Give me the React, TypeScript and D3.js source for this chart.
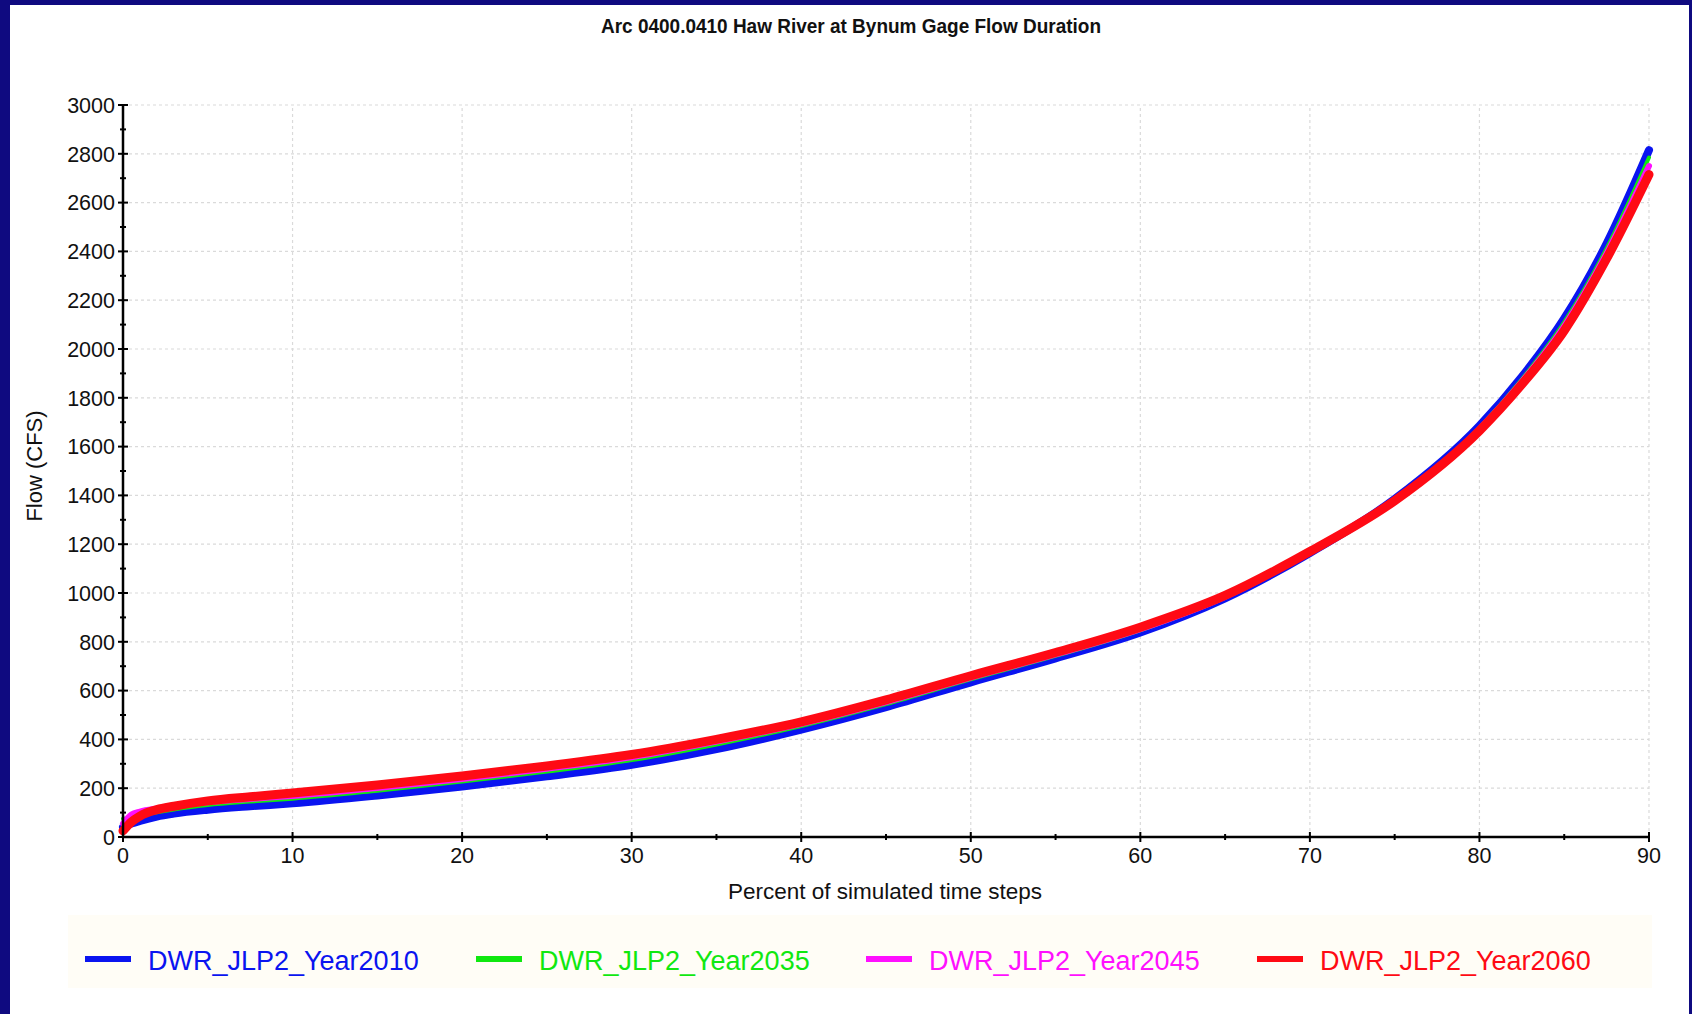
import React from "react";
import * as d3 from "d3";

const titleText = "Arc 0400.0410 Haw River at Bynum Gage Flow Duration";
const xTitle = "Percent of simulated time steps";
const yTitle = "Flow (CFS)";

const pct = [0, 0.5, 1, 2, 3, 5, 7.5, 10, 15, 20, 25, 30, 35, 40, 45, 50, 55, 60, 65, 70, 75, 80, 82.5, 85, 87.5, 90];
const year2010 = [40, 55, 66, 84, 96, 112, 126, 138, 170, 207, 249, 296, 360, 440, 532, 634, 732, 838, 978, 1164, 1385, 1685, 1886, 2125, 2432, 2815];
const year2035 = [75, 78, 86, 101, 113, 131, 145, 157, 190, 227, 268, 315, 379, 455, 545, 646, 742, 847, 982, 1166, 1383, 1678, 1876, 2110, 2412, 2785];
const year2045 = [55, 92, 104, 117, 126, 142, 156, 168, 201, 238, 280, 327, 391, 464, 553, 653, 748, 852, 985, 1168, 1381, 1672, 1866, 2094, 2392, 2750];
const year2060 = [25, 62, 86, 112, 126, 148, 165, 180, 213, 250, 291, 338, 400, 472, 562, 661, 756, 860, 990, 1170, 1378, 1665, 1855, 2075, 2370, 2715];

const seriesNames = ["DWR_JLP2_Year2010", "DWR_JLP2_Year2035", "DWR_JLP2_Year2045", "DWR_JLP2_Year2060"];
const seriesValues = [year2010, year2035, year2045, year2060];
const seriesColors = ["#0a14f0", "#10e810", "#ff10ff", "#ff0a14"];
const seriesWidths = [8, 4, 6, 9];

const xTicks = [0, 10, 20, 30, 40, 50, 60, 70, 80, 90];
const xMinor = [5, 15, 25, 35, 45, 55, 65, 75, 85];
const yTicks = [0, 200, 400, 600, 800, 1000, 1200, 1400, 1600, 1800, 2000, 2200, 2400, 2600, 2800, 3000];
const yMinor = [100, 300, 500, 700, 900, 1100, 1300, 1500, 1700, 1900, 2100, 2300, 2500, 2700, 2900];

const W = 1692;
const H = 1014;
const font = "'Liberation Sans', Arial, sans-serif";

export default function App() {
  const x = d3.scaleLinear().domain([0, 90]).range([123, 1649]);
  const y = d3.scaleLinear().domain([0, 3000]).range([837, 105]);
  const line = d3
    .line<[number, number]>()
    .x((d) => x(d[0]))
    .y((d) => y(d[1]))
    .curve(d3.curveMonotoneX);

  const legendX = [85, 476, 866, 1257];

  return (
    <svg
      width={W}
      height={H}
      style={{ position: "absolute", left: 0, top: 0, display: "block" }}
      fontFamily={font}
    >
      <rect x={0} y={0} width={W} height={H} fill="#0f0a80" />
      <rect x={10} y={5} width={1679} height={H - 5} fill="#ffffff" />
      <rect x={68} y={915} width={1584} height={73} fill="#fffdf6" />

      <text
        x={851}
        y={33}
        textAnchor="middle"
        fontFamily="'Liberation Sans Narrow', 'Arial Narrow', 'Liberation Sans', sans-serif"
        fontWeight="bold"
        fontSize={20}
        textLength={500}
        lengthAdjust="spacingAndGlyphs"
        fill="#111"
      >
        {titleText}
      </text>

      {/* grid */}
      <g stroke="#dadada" strokeWidth={1.2} strokeDasharray="3,3">
        {yTicks.filter((t) => t > 0).map((t) => (
          <line key={"gy" + t} x1={x(0)} x2={x(90)} y1={y(t)} y2={y(t)} />
        ))}
        {xTicks.filter((t) => t > 0).map((t) => (
          <line key={"gx" + t} x1={x(t)} x2={x(t)} y1={y(0)} y2={y(3000)} />
        ))}
      </g>

      {/* series */}
      {seriesValues.map((vals, i) => (
        <path
          key={seriesNames[i]}
          d={line(pct.map((p, j) => [p, vals[j]] as [number, number])) || ""}
          fill="none"
          stroke={seriesColors[i]}
          strokeWidth={seriesWidths[i]}
          strokeLinejoin="round"
          strokeLinecap="round"
        />
      ))}

      {/* axes */}
      <g stroke="#000">
        <line x1={x(0)} x2={x(0)} y1={y(0)} y2={y(3000)} strokeWidth={2.5} />
        <line x1={x(0)} x2={x(90)} y1={y(0)} y2={y(0)} strokeWidth={2.5} />
        {yTicks.map((t) => (
          <line key={"yt" + t} x1={x(0) - 5} x2={x(0) + 5} y1={y(t)} y2={y(t)} strokeWidth={2} />
        ))}
        {yMinor.map((t) => (
          <line key={"ym" + t} x1={x(0) - 3} x2={x(0) + 3} y1={y(t)} y2={y(t)} strokeWidth={2} />
        ))}
        {xTicks.map((t) => (
          <line key={"xt" + t} x1={x(t)} x2={x(t)} y1={y(0) - 5} y2={y(0) + 5} strokeWidth={2} />
        ))}
        {xMinor.map((t) => (
          <line key={"xm" + t} x1={x(t)} x2={x(t)} y1={y(0) - 3} y2={y(0) + 3} strokeWidth={2} />
        ))}
      </g>

      <g fontSize={21.5} fill="#111">
        {yTicks.map((t) => (
          <text key={"yl" + t} x={x(0) - 8} y={y(t)} dy="0.36em" textAnchor="end">
            {t}
          </text>
        ))}
        {xTicks.map((t) => (
          <text key={"xl" + t} x={x(t)} y={863} textAnchor="middle">
            {t}
          </text>
        ))}
      </g>

      <text x={885} y={899} textAnchor="middle" fontSize={22.5} fill="#111">
        {xTitle}
      </text>
      <text
        transform="translate(42,466) rotate(-90)"
        textAnchor="middle"
        fontSize={22}
        fill="#111"
      >
        {yTitle}
      </text>

      {/* legend */}
      {seriesNames.map((name, i) => (
        <g key={"lg" + name}>
          <line
            x1={legendX[i]}
            x2={legendX[i] + 46}
            y1={959}
            y2={959}
            stroke={seriesColors[i]}
            strokeWidth={6}
          />
          <text x={legendX[i] + 63} y={970} fontSize={27} fill={seriesColors[i]}>
            {name}
          </text>
        </g>
      ))}
    </svg>
  );
}
